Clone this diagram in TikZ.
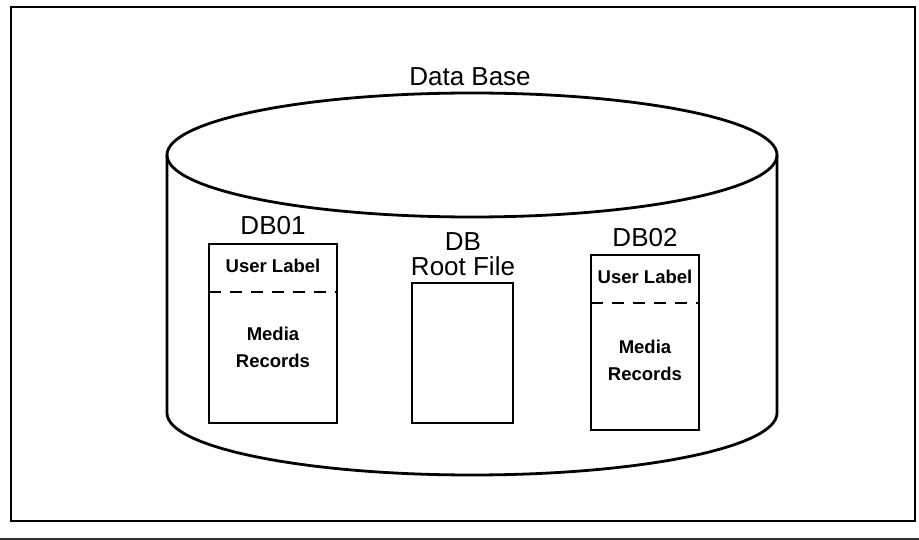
\documentclass[tikz,border=0pt]{standalone}
\usepackage{fontspec}
\setmainfont{Liberation Sans}
\begin{document}
\begin{tikzpicture}[x=1pt,y=-1pt,
  outline/.style={line width=2.8pt},
  boxline/.style={line width=2.4pt},
  bigtext/.style={font=\fontsize{26}{28}\selectfont,inner sep=0pt},
  smalltext/.style={font=\bfseries\fontsize{18.5}{27}\selectfont,inner sep=0pt,align=center}]
\useasboundingbox (0,0) rectangle (919,540);
% outer frame and rule beneath it
\draw[line width=2.6pt] (11,7) rectangle (915,521);
\draw[line width=1.4pt,black!80] (0,539) -- (919,539);
% cylinder: side walls, bottom rim, top face
\coordinate (cyltop) at (472,155);
\draw[outline] (167,155) -- (167,413) arc[start angle=180,end angle=360,x radius=305pt,y radius=62pt] -- (777,155);
\draw[outline] (cyltop) ellipse[x radius=305pt,y radius=62pt];
\node[bigtext] (title) at (470,77) {Data Base};
% file DB01
\draw[boxline] (209,244) rectangle (337,423);
\coordinate (d1l) at (209,292);
\coordinate (d1r) at (337,292);
\draw[boxline,dash pattern=on 12pt off 9pt] (d1l) -- (d1r);
\node[bigtext] (db01) at (273,226) {DB01};
\node[smalltext] (ul1) at (273,266) {User Label};
\node[smalltext] (mr1) at (273,347) {Media\\Records};
% root file
\draw[boxline] (412,283) rectangle (513,423);
\node[bigtext,align=center,font=\fontsize{26}{25}\selectfont] (root) at (463,254) {DB\\Root File};
% file DB02
\draw[boxline] (591,255) rectangle (699,430);
\coordinate (d2l) at (591,303);
\coordinate (d2r) at (699,303);
\draw[boxline,dash pattern=on 12pt off 9pt] (d2l) -- (d2r);
\node[bigtext] (db02) at (645,238) {DB02};
\node[smalltext] (ul2) at (645,277) {User Label};
\node[smalltext] (mr2) at (645,360) {Media\\Records};
\end{tikzpicture}
\end{document}
